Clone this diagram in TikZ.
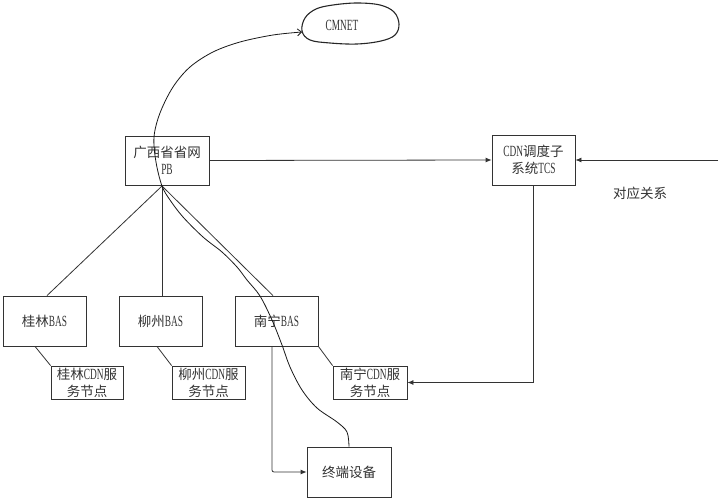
\documentclass[tikz,border=0pt]{standalone}
\usepackage{fontspec}
\setmainfont{Liberation Serif}[FakeStretch=0.6, Scale=1.15]
\newfontfamily\cjk{Noto Sans CJK SC}
\usetikzlibrary{arrows.meta}
\newcommand\zh[1]{{\cjk #1}}
\definecolor{linec}{HTML}{333333}
\begin{document}
\begin{tikzpicture}[x=1pt,y=-1pt,
  ln/.style={draw=linec, line width=0.8pt},
  txt/.style={font=\fontsize{13.5}{17}\selectfont, text=black!80},
  box/.style={ln, txt, minimum width=83pt, minimum height=50pt, inner sep=0pt, align=center},
  sbox/.style={box, minimum width=73pt, minimum height=33pt},
  arr/.style={-{Latex[length=6pt,width=5pt]}}]
\useasboundingbox (0,0) rectangle (720,500);
\fill[white] (0,0) rectangle (720,500);
% cloud
\draw[black!85, line width=1.1pt] plot[smooth cycle, tension=0.6] coordinates {
  (302,31) (305,18) (316,9) (333,5) (357,3) (380,5) (394,12) (399,24) (395,35)
  (381,41) (357,44) (330,43) (310,40)};
\node[txt, inner sep=0pt] (cm) at (342,25) {CMNET};
\coordinate (cmin) at (302,32);
% nodes
\node[box, minimum width=84pt, minimum height=49pt] (pb) at (167,160.5) {\zh{广西省省网}\\PB};
\node[box] (tcs) at (533.5,160) {CDN\zh{调度子}\\\zh{系统}TCS};
\node[box] (gl) at (44.5,321) {\zh{桂林}BAS};
\node[box] (lz) at (160.5,321) {\zh{柳州}BAS};
\node[box] (nn) at (276.5,321) {\zh{南宁}BAS};
\node[sbox, minimum width=72pt] (glc) at (87,382.5) {\zh{桂林}CDN\zh{服}\\\zh{务节点}};
\node[sbox] (lzc) at (208.5,382.5) {\zh{柳州}CDN\zh{服}\\\zh{务节点}};
\node[sbox, minimum width=74pt] (nnc) at (370,382.5) {\zh{南宁}CDN\zh{服}\\\zh{务节点}};
\node[box, minimum width=84pt] (zd) at (349,472) {\zh{终端设备}};
\node[txt] (rel) at (640,193) {\zh{对应关系}};
\coordinate (rin) at (718,160);
\coordinate (pbs) at (162,186);
% tree lines
\draw[ln] (pbs) -- ([xshift=2.5pt]gl.north);
\draw[ln] (pbs) -- (pbs |- lz.north);
\draw[ln] (pbs) -- ([xshift=-3.5pt]nn.north);
\draw[ln] ([xshift=-9.5pt]gl.south) -- (glc.north west);
\draw[ln] ([xshift=-3.5pt]lz.south) -- (lzc.north west);
\draw[ln] (nn.south east) -- (nnc.north west);
% arrows
\draw[ln,arr] (pb.east) -- (tcs.west);
\draw[ln,arr] (rin) -- (tcs.east);
\draw[ln,arr] (tcs.south) |- (nnc.east);
\draw[ln,arr,rounded corners=2pt] ([xshift=-4.5pt]nn.south) |- (zd.west);
% curve
\draw[ln, draw=black!90, -{Straight Barb[length=4pt,width=7pt]}] plot[smooth, tension=0.55] coordinates {
 (zd.north) (347,432) (337,422) (317,408) (302,390) (290,367) (282,345) (272,320) (260,296)
 (247,280) (237,267) (222,252) (203,237) (183,217) (170,200) (162,186) (156,162) (154,137)
 (160,113) (173,87) (190,67) (213,52) (240,42) (273,35) (cmin)};
\end{tikzpicture}
\end{document}
